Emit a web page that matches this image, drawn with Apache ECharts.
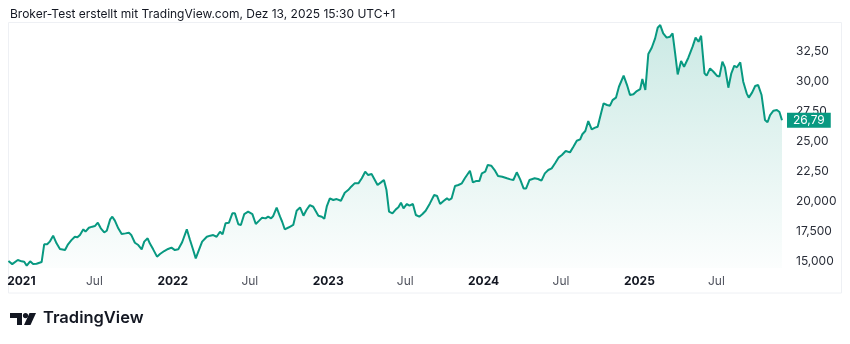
<!DOCTYPE html>
<html>
<head>
<meta charset="utf-8">
<script src="https://cdn.jsdelivr.net/npm/echarts@6/dist/echarts.min.js"></script>
<style>
html,body{margin:0;padding:0;background:#fff;}
#c{width:850px;height:344px;}
</style>
</head>
<body>
<div id="c"></div>
<script>
const dates = [
'2020-12-11','2020-12-20','2021-01-02','2021-01-11','2021-01-17','2021-01-23','2021-01-31','2021-02-07','2021-02-15','2021-02-19',
'2021-02-27','2021-03-05','2021-03-12','2021-03-18','2021-03-26','2021-04-03','2021-04-11','2021-04-23','2021-04-30','2021-05-08',
'2021-05-16','2021-05-22','2021-05-28','2021-06-05','2021-06-10','2021-06-18','2021-06-26','2021-07-02','2021-07-09','2021-07-16',
'2021-07-24','2021-07-30','2021-08-07','2021-08-12','2021-08-18','2021-08-26','2021-09-03','2021-09-12','2021-09-20','2021-09-26',
'2021-10-04','2021-10-12','2021-10-20','2021-10-26','2021-11-03','2021-11-08','2021-11-16','2021-11-25','2021-12-02','2021-12-12',
'2021-12-21','2021-12-29',
'2022-01-06','2022-01-14','2022-01-23','2022-02-03','2022-02-10','2022-02-18','2022-02-24','2022-03-04','2022-03-11','2022-03-22',
'2022-03-30','2022-04-06','2022-04-14','2022-04-22','2022-04-28','2022-05-05','2022-05-13','2022-05-21','2022-05-27','2022-06-04',
'2022-06-10','2022-06-18','2022-06-27','2022-07-07','2022-07-15','2022-07-23','2022-07-30','2022-08-07','2022-08-13','2022-08-20',
'2022-08-25','2022-09-02','2022-09-10','2022-09-15','2022-09-21','2022-10-01','2022-10-11','2022-10-19','2022-10-27','2022-11-04',
'2022-11-11','2022-11-19','2022-11-27','2022-12-09','2022-12-17','2022-12-23','2022-12-29',
'2023-01-05','2023-01-13','2023-01-21','2023-01-31','2023-02-09','2023-02-17','2023-02-24','2023-03-04','2023-03-13','2023-03-21',
'2023-03-29','2023-04-05','2023-04-13','2023-04-27','2023-05-05','2023-05-12','2023-05-18','2023-05-24','2023-06-01','2023-06-09',
'2023-06-15','2023-06-21','2023-06-27','2023-07-05','2023-07-11','2023-07-19','2023-07-26','2023-08-03','2023-08-10','2023-08-18',
'2023-08-28','2023-09-07','2023-09-14','2023-09-21','2023-09-29','2023-10-07','2023-10-12','2023-10-18','2023-10-26','2023-11-03',
'2023-11-11','2023-11-18','2023-11-30','2023-12-07','2023-12-14','2023-12-22','2023-12-28',
'2024-01-05','2024-01-11','2024-01-19','2024-01-27','2024-02-04','2024-02-14','2024-02-25','2024-03-04','2024-03-11','2024-03-19',
'2024-03-27','2024-04-04','2024-04-10','2024-04-18','2024-04-30','2024-05-08','2024-05-16','2024-05-24','2024-06-01','2024-06-09',
'2024-06-17','2024-06-25','2024-07-03','2024-07-12','2024-07-22','2024-07-30','2024-08-07','2024-08-15','2024-08-20','2024-08-27',
'2024-09-03','2024-09-11','2024-09-19','2024-09-25','2024-10-03','2024-10-09','2024-10-17','2024-10-24','2024-10-30','2024-11-07',
'2024-11-14','2024-11-25','2024-12-03','2024-12-10','2024-12-18','2024-12-26',
'2025-01-03','2025-01-08','2025-01-15','2025-01-22','2025-01-30','2025-02-07','2025-02-13','2025-02-19','2025-02-26','2025-03-06',
'2025-03-14','2025-03-20','2025-03-26','2025-04-01','2025-04-09','2025-04-16','2025-04-26','2025-05-06','2025-05-13','2025-05-20',
'2025-05-26','2025-06-03','2025-06-08','2025-06-16','2025-06-24','2025-07-02','2025-07-08','2025-07-15','2025-07-21','2025-07-29',
'2025-08-05','2025-08-12','2025-08-18','2025-08-26','2025-09-02','2025-09-10','2025-09-15','2025-09-23','2025-09-30','2025-10-07',
'2025-10-15','2025-10-23','2025-10-29','2025-11-04','2025-11-12','2025-11-20','2025-11-26','2025-12-02'
];
const values = [
15.06,14.8,15.14,15.03,15.0,14.67,15.03,14.8,14.83,14.97,
14.97,16.45,16.45,16.67,17.17,16.53,16.06,15.97,16.45,16.8,
17.08,17.03,17.22,17.7,17.5,17.83,17.92,17.97,18.25,17.78,
17.45,17.58,18.53,18.75,18.42,17.78,17.31,17.36,17.42,17.2,
16.58,16.39,16.03,16.67,16.95,16.53,16.03,15.42,15.64,15.89,
16.06,16.17,
15.97,16.03,16.62,17.7,16.87,15.97,15.28,16.03,16.67,17.08,
17.17,17.22,17.08,17.5,17.28,18.2,18.25,19.03,19.03,18.12,
18.06,18.97,19.17,18.97,18.14,18.42,18.67,18.61,18.75,18.61,
18.81,19.5,18.75,18.33,17.7,17.87,18.06,19.25,19.53,18.83,
19.31,19.72,19.58,18.83,18.75,18.58,19.64,
20.28,20.14,20.22,20.08,20.75,20.97,21.25,21.53,21.53,21.95,
22.5,22.22,22.31,21.39,21.61,21.81,20.97,19.17,19.03,19.36,
19.53,19.92,19.45,19.81,19.67,19.81,18.89,18.75,18.95,19.25,
19.86,20.56,20.47,19.81,20.06,20.28,20.14,20.28,21.31,21.39,
21.53,21.95,22.58,21.61,21.72,21.72,22.36,
22.5,23.06,23.0,22.64,22.14,22.08,21.95,21.86,21.81,22.45,
21.86,21.11,21.11,21.81,21.95,21.89,21.75,22.36,22.64,22.78,
23.2,23.67,23.89,24.22,24.11,24.58,25.08,25.2,25.62,25.89,
26.72,26.03,26.17,26.25,27.37,28.2,28.06,28.0,28.47,28.67,
29.58,30.5,29.72,28.89,28.95,29.22,
29.39,30.22,29.31,32.31,32.83,33.61,34.5,34.72,34.03,33.67,
33.75,34.03,32.36,30.61,31.72,31.25,32.0,32.92,33.67,33.33,
33.83,30.7,30.5,31.11,30.83,30.5,30.42,31.67,31.2,29.5,
30.7,31.33,31.2,31.61,30.0,29.03,28.67,29.11,29.64,29.72,
28.89,26.81,26.62,27.22,27.58,27.64,27.47,26.79
];
const xTicks = ['2021-01-01','2021-07-01','2022-01-01','2022-07-01','2023-01-01','2023-07-01','2024-01-01','2024-07-01','2025-01-01','2025-07-01'];
const xTickLabels = ['2021','Jul','2022','Jul','2023','Jul','2024','Jul','2025','Jul'];
const yTicks = [15, 17.5, 20, 22.5, 25, 27.5, 30, 32.5];
const yTickLabels = ['15,000','17,500','20,000','22,50','25,00','27,50','30,00','32,50'];
const lastPrice = 26.79;
const lastPriceLabel = '26,79';
const titleText = 'Broker-Test erstellt mit TradingView.com, Dez 13, 2025 15:30 UTC+1';

const FONT = 'Inter, "Noto Sans", sans-serif';
const GREEN = '#089981';
const ts = d => new Date(d + 'T00:00:00Z').getTime();
const xTickTs = xTicks.map(ts);
const seriesData = dates.map((d, i) => [ts(d), values[i]]);

const chart = echarts.init(document.getElementById('c'), null, {renderer: 'canvas'});
chart.setOption({
  animation: false,
  backgroundColor: '#ffffff',
  title: {
    text: titleText, left: 5, top: 3,
    textStyle: {fontFamily: FONT, fontSize: 12, fontWeight: 'normal', color: '#131722'}
  },
  grid: {left: 8, right: 68, top: 22, height: 246, containLabel: false},
  xAxis: {
    type: 'value',
    min: ts('2020-12-10'),
    max: ts('2025-12-02'),
    axisLine: {show: false}, axisTick: {show: false}, splitLine: {show: false},
    axisLabel: {
      customValues: xTickTs, hideOverlap: false, margin: 7,
      fontFamily: FONT, fontSize: 12,
      formatter: function (v) {
        let i = -1;
        for (let k = 0; k < xTickTs.length; k++) { if (Math.abs(xTickTs[k] - v) < 1000) { i = k; } }
        const t = i >= 0 ? xTickLabels[i] : '';
        if (i === 0) { return '{f|' + t + '}'; }
        return t === 'Jul' ? '{m|' + t + '}' : '{y|' + t + '}';
      },
      rich: {
        f: {fontFamily: FONT, fontSize: 12, fontWeight: 'bold', color: '#131722', padding: [0, 0, 0, 8]},
        y: {fontFamily: FONT, fontSize: 12, fontWeight: 'bold', color: '#131722'},
        m: {fontFamily: FONT, fontSize: 12, color: '#50535e'}
      }
    }
  },
  yAxis: {
    type: 'value', position: 'right', min: 14.475, max: 34.975,
    axisLine: {show: false}, axisTick: {show: false}, splitLine: {show: false},
    axisLabel: {
      customValues: yTicks, margin: 14, fontFamily: FONT, fontSize: 12, color: '#2a2e39',
      formatter: function (v) {
        const i = yTicks.findIndex(t => Math.abs(t - v) < 1e-6);
        return i >= 0 ? yTickLabels[i] : '';
      }
    }
  },
  series: [{
    type: 'line', data: seriesData, showSymbol: false, symbol: 'none',
    lineStyle: {color: GREEN, width: 2},
    itemStyle: {color: GREEN},
    areaStyle: {
      color: new echarts.graphic.LinearGradient(0, 0, 0, 1, [
        {offset: 0, color: 'rgba(8,153,129,0.30)'},
        {offset: 1, color: 'rgba(8,153,129,0.02)'}
      ])
    },
    markLine: {
      silent: true, symbol: ['none', 'none'], animation: false,
      lineStyle: {color: 'rgba(0,0,0,0)', width: 1, type: 'solid'},
      label: {
        show: true, position: 'end', distance: 5, formatter: lastPriceLabel,
        backgroundColor: GREEN, color: '#ffffff', padding: [2, 6, 1, 6],
        fontFamily: FONT, fontSize: 12
      },
      emphasis: {disabled: true},
      data: [{yAxis: lastPrice}]
    }
  }],
  graphic: [
    {type: 'rect', silent: true, z: -1, shape: {x: 8.5, y: 22.5, width: 833, height: 270.5},
     style: {fill: 'none', stroke: '#eef0f4', lineWidth: 1}},
    {type: 'group', left: 10, top: 313, children: [
      {type: 'polygon', shape: {points: [[0,0],[12,0],[12,12],[7,12],[7,5],[0,5]]}, style: {fill: '#131722'}},
      {type: 'circle', shape: {cx: 15.5, cy: 2.6, r: 2.6}, style: {fill: '#131722'}},
      {type: 'polygon', shape: {points: [[19.5,0],[26,0],[20.5,12],[14,12]]}, style: {fill: '#131722'}}
    ]},
    {type: 'text', left: 43, top: 310, style: {text: 'TradingView', fontFamily: FONT, fontSize: 16.5, fontWeight: 600, fill: '#131722'}}
  ]
});
</script>
</body>
</html>
